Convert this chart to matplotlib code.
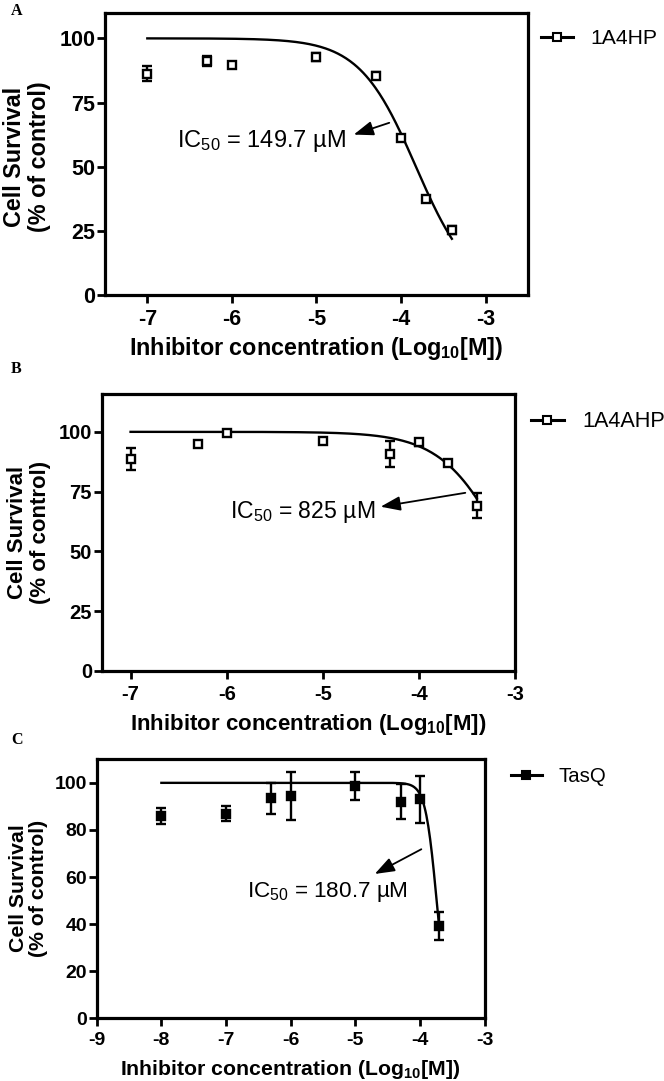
import numpy as np
import matplotlib
matplotlib.use("Agg")
import matplotlib.pyplot as plt

plt.rcParams["font.family"] = ["Liberation Sans", "DejaVu Sans"]
plt.rcParams["mathtext.default"] = "regular"

# ---- data ----
conc_a = [-7, -6.3, -6, -5, -4.3, -4, -3.7, -3.4]
surv_a = [86.3, 91.1, 89.6, 92.7, 85.5, 61.2, 37.4, 25.4]
err_a = [3.0, 2.0, 1.0, 1.5, 1.5, 1.0, 1.0, 1.5]

conc_b = [-7, -6.3, -6, -5, -4.3, -4, -3.7, -3.4]
surv_b = [88.6, 94.9, 99.6, 96.3, 90.7, 95.6, 86.8, 69.1]
err_b = [4.5, 1.0, 1.0, 1.0, 5.4, 1.5, 1.0, 5.2]

conc_c = [-8, -7, -6.3, -6, -5, -4.3, -4, -3.7]
surv_c = [86.0, 86.8, 93.4, 94.4, 98.6, 92.0, 93.1, 39.2]
err_c = [3.3, 3.2, 6.7, 10.0, 6.0, 7.5, 10.0, 6.0]

names = ["1A4HP", "1A4AHP", "TasQ"]
ic50_um = [149.7, 825, 180.7]
ic50_text = ["149.7", "825", "180.7"]
hill = [1.3, 1.3, 5.0]
top = 100.0

W, H = 664, 1081


def px(x, y):
    return x / W, 1 - y / H


def sigmoid(x, ic50, h):
    log_ic50 = np.log10(ic50 * 1e-6)
    return top / (1 + 10 ** ((x - log_ic50) * h))


fig = plt.figure(figsize=(W / 100, H / 100), dpi=100)

panels = [
    dict(letter="A", rect=(105, 12.7, 528, 295), xlim=(-7.5, -2.5), ylim=(0, 110),
         xticks=[-7, -6, -5, -4, -3], yticks=[0, 25, 50, 75, 100],
         conc=conc_a, surv=surv_a, err=err_a, filled=False,
         fs_tick=15.5, fs_lab=16.8, fs_ann=17, fs_leg=15.2, labelpad=4,
         text_xy=(-6.65, 59.9), arrow_from=(-4.14, 67.1), arrow_to=(-4.56, 62.5),
         leg=(541, 39), letter_xy=(11, 3), ylab=(-0.128, 0.49)),
    dict(letter="B", rect=(101.7, 394.3, 515.3, 671), xlim=(-7.3, -3), ylim=(0, 115.7),
         xticks=[-7, -6, -5, -4, -3], yticks=[0, 25, 50, 75, 100],
         conc=conc_b, surv=surv_b, err=err_b, filled=False,
         fs_tick=14.5, fs_lab=16.0, fs_ann=16.6, fs_leg=15.6, labelpad=5.5,
         text_xy=(-5.97, 66.6), arrow_from=(-3.52, 74.5), arrow_to=(-4.40, 68.7),
         leg=(531, 421.7), letter_xy=(11, 361), ylab=(-0.123, 0.5)),
    dict(letter="C", rect=(96.7, 759.3, 484.7, 1018.3), xlim=(-9, -3), ylim=(0, 110),
         xticks=[-9, -8, -7, -6, -5, -4, -3], yticks=[0, 20, 40, 60, 80, 100],
         conc=conc_c, surv=surv_c, err=err_c, filled=True,
         fs_tick=14.0, fs_lab=15.3, fs_ann=16.2, fs_leg=14.7, labelpad=6,
         text_xy=(-6.68, 53.8), arrow_from=(-3.98, 71.8), arrow_to=(-4.70, 61.3),
         leg=(511, 776.7), letter_xy=(11, 732), ylab=(-0.125, 0.503)),
]

for i, p in enumerate(panels):
    x0, y0, x1, y1 = p["rect"]
    ax = fig.add_axes([x0 / W, 1 - y1 / H, (x1 - x0) / W, (y1 - y0) / H])

    xs = np.linspace(min(p["conc"]), max(p["conc"]), 300)
    ax.plot(xs, sigmoid(xs, ic50_um[i], hill[i]), color="black", lw=1.7, zorder=2)

    face = "black" if p["filled"] else "white"
    ax.errorbar(p["conc"], p["surv"], yerr=p["err"], fmt="s", ms=6 if not p["filled"] else 5.5,
                mfc=face, mec="black", mew=1.7, ecolor="black", elinewidth=1.7,
                capsize=3.5, capthick=1.7, zorder=3)

    # legend handle: line with marker
    ax.plot([], [], color="black", lw=2.2, marker="s", ms=5.5, mfc=face, mec="black",
            mew=1.5, label=names[i])
    lx, ly = px(*p["leg"])
    ax.legend(loc="center left", bbox_to_anchor=(lx, ly), bbox_transform=fig.transFigure,
              frameon=False, borderpad=0, borderaxespad=0, handlelength=1.5,
              handletextpad=0.85, fontsize=p["fs_leg"])

    ax.set_xlim(*p["xlim"])
    ax.set_ylim(*p["ylim"])
    ax.set_xticks(p["xticks"])
    ax.set_yticks(p["yticks"])
    ax.set_xticklabels([str(t) for t in p["xticks"]])
    for s in ax.spines.values():
        s.set_linewidth(2.3)
    ax.tick_params(direction="out", length=6, width=2, labelsize=p["fs_tick"])
    ax.tick_params(axis="x", pad=4)
    ax.tick_params(axis="y", pad=1)
    for lab in ax.get_xticklabels() + ax.get_yticklabels():
        lab.set_fontweight("bold")

    ax.set_xlabel("Inhibitor concentration (Log$_{10}$[M])", fontsize=p["fs_lab"],
                  fontweight="bold", labelpad=p["labelpad"])
    ax.set_ylabel("Cell Survival\n(% of control)", fontsize=p["fs_lab"],
                  fontweight="bold", linespacing=1.1)
    ax.yaxis.set_label_coords(*p["ylab"])

    ax.text(p["text_xy"][0], p["text_xy"][1], "IC$_{50}$ = " + ic50_text[i] + " µM",
            fontsize=p["fs_ann"], ha="left", va="center")
    ax.annotate("", xy=p["arrow_to"], xytext=p["arrow_from"],
                arrowprops=dict(arrowstyle="-|>,head_length=0.6,head_width=0.22",
                                mutation_scale=20, lw=1.3, color="black",
                                shrinkA=0, shrinkB=0))

    fx, fy = px(*p["letter_xy"])
    fig.text(fx, fy, p["letter"], family="Liberation Serif", fontweight="bold",
             fontsize=11.5, ha="left", va="top")

fig.savefig("out.png", dpi=100)
